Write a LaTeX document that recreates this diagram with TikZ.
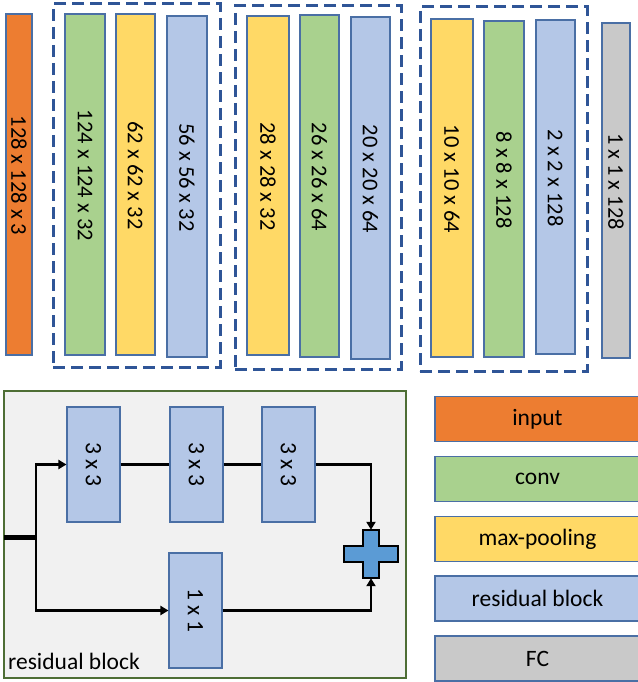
\documentclass[tikz,border=0pt]{standalone}
\usepackage{fontspec}
\setmainfont{Carlito}
\usetikzlibrary{arrows.meta}
\definecolor{corange}{HTML}{ED7D31}
\definecolor{cgreen}{HTML}{A9D18E}
\definecolor{cyellow}{HTML}{FFD966}
\definecolor{cblue}{HTML}{B4C7E7}
\definecolor{cgrey}{HTML}{C9C9C9}
\definecolor{cbord}{HTML}{4A6FA5}
\definecolor{cdash}{HTML}{2F5597}
\definecolor{cpanel}{HTML}{F1F1F1}
\definecolor{cpanelb}{HTML}{4E6E35}
\definecolor{cplus}{HTML}{5B9BD5}
\newcommand{\vtext}[1]{\rotatebox{-90}{#1\hspace{18pt}}}
\begin{document}
\begin{tikzpicture}[x=1pt,y=-1pt,
  layer/.style={draw=cbord, line width=1.1pt, inner sep=0pt, font=\fontsize{22.5}{26}\selectfont},
  dashbox/.style={draw=cdash, line width=3pt, dash pattern=on 12pt off 6pt, inner sep=0pt},
  rbox/.style={draw=cbord, fill=cblue, line width=1.1pt, inner sep=0pt, minimum width=53pt, minimum height=115pt, font=\fontsize{23.5}{27}\selectfont},
  legbox/.style={draw=cbord, line width=1.1pt, inner sep=0pt, minimum width=205pt, minimum height=45pt, font=\fontsize{23.5}{27}\selectfont},
  conn/.style={line width=2.3pt, black},
  arr/.style={conn, -{Triangle[length=8pt,width=9pt]}}]
\useasboundingbox (0,0) rectangle (637,682);
% dashed groups
\node[dashbox, minimum width=167pt, minimum height=363pt] (g1) at (136.5,185.5) {};
\node[dashbox, minimum width=166pt, minimum height=363pt] (g2) at (318,187.5) {};
\node[dashbox, minimum width=167pt, minimum height=364pt] (g3) at (503.5,189) {};
% layers
\node[layer, fill=corange, minimum width=26pt, minimum height=341pt] (in) at (19,184.5) {\vtext{128 x 128 x 3}};
\node[layer, fill=cgreen, minimum width=40pt, minimum height=341pt] (c1) at (85,184.5) {\vtext{124 x 124 x 32}};
\node[layer, fill=cyellow, minimum width=39pt, minimum height=341pt] (p1) at (135.5,184.5) {\vtext{62 x 62 x 32}};
\node[layer, fill=cblue, minimum width=40pt, minimum height=341pt] (r1) at (187,186.5) {\vtext{56 x 56 x 32}};
\node[layer, fill=cyellow, minimum width=42pt, minimum height=339pt] (p2) at (268,185.5) {\vtext{28 x 28 x 32}};
\node[layer, fill=cgreen, minimum width=39pt, minimum height=342pt] (c2) at (319.5,186) {\vtext{26 x 26 x 64}};
\node[layer, fill=cblue, minimum width=39pt, minimum height=342pt] (r2) at (370.5,188) {\vtext{20 x 20 x 64}};
\node[layer, fill=cyellow, minimum width=42pt, minimum height=338pt] (p3) at (452,188) {\vtext{10 x 10 x 64}};
\node[layer, fill=cgreen, minimum width=40pt, minimum height=336pt] (c3) at (504,189) {\vtext{8 x 8 x 128}};
\node[layer, fill=cblue, minimum width=39pt, minimum height=334pt] (r3) at (555.5,187) {\vtext{2 x 2 x 128}};
\node[layer, fill=cgrey, minimum width=28pt, minimum height=335pt] (fc) at (616,190.5) {\vtext{1 x 1 x 128}};
% residual block panel
\node[draw=cpanelb, fill=cpanel, line width=1.2pt, inner sep=0pt, minimum width=402pt, minimum height=287pt] (panel) at (205,534.5) {};
\node[anchor=base west, inner sep=0pt, font=\fontsize{23.5}{27}\selectfont] (plabel) at (8,669) {residual block};
\node[rbox] (b1) at (93.5,464.5) {\rotatebox{-90}{3 x 3}};
\node[rbox] (b2) at (196.5,464.5) {\rotatebox{-90}{3 x 3}};
\node[rbox] (b3) at (288.5,464.5) {\rotatebox{-90}{3 x 3}};
\node[rbox] (b4) at (195.5,610.5) {\rotatebox{-90}{1 x 1}};
\node[inner sep=0pt, minimum width=54pt, minimum height=48pt] (plus) at (371,554) {};
\fill[cplus, draw=black, line width=2.8pt, line join=miter]
  (363,530) -- (379,530) -- (379,546) -- (398,546) -- (398,562) -- (379,562)
  -- (379,578) -- (363,578) -- (363,562) -- (344,562) -- (344,546) -- (363,546) -- cycle;
\coordinate (inL) at (4,537);
\coordinate (split) at (36,537);
\draw[line width=5pt] (inL) -- (split);
\draw[arr] (split) |- (b1.west);
\draw[arr] (split) |- (b4.west);
\draw[conn] (b1.east) -- (b2.west);
\draw[conn] (b2.east) -- (b3.west);
\draw[arr] (b3.east) -| (plus.north);
\draw[arr] (b4.east) -| (plus.south);
% legend
\node[legbox, fill=corange] (l1) at (537.5,419) {input};
\node[legbox, fill=cgreen] (l2) at (537.5,479) {conv};
\node[legbox, fill=cyellow] (l3) at (537.5,539) {max-pooling};
\node[legbox, fill=cblue] (l4) at (537.5,598.5) {residual block};
\node[legbox, fill=cgrey] (l5) at (537.5,658.5) {FC};
\end{tikzpicture}
\end{document}
